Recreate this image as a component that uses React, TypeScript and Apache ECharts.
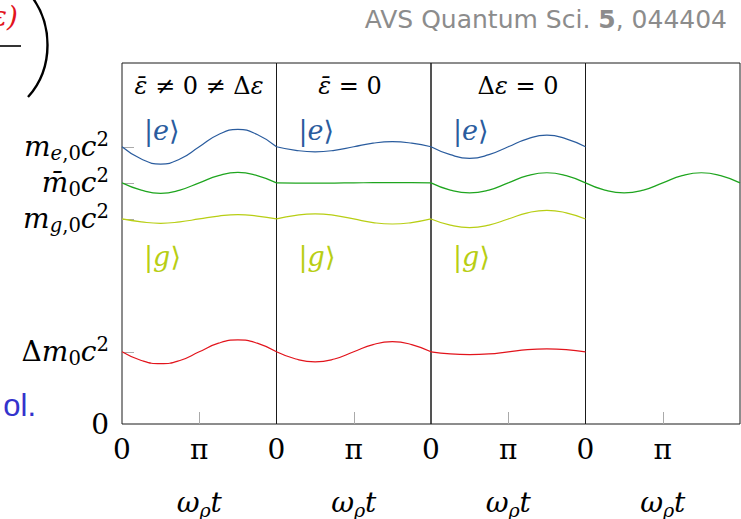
import React, { useEffect, useRef } from "react";
import * as echarts from "echarts";

// ---- data (multiples of π on x, energies in units of Δm0c² on y) ----
const phaseInPi = [0, 0.25, 0.5, 0.75, 1, 1.25, 1.5, 1.75, 2];

// panel 1: ε̄ ≠ 0 ≠ Δε
const p1Excited = [3.84, 3.67, 3.6, 3.67, 3.84, 4.01, 4.08, 4.01, 3.84];
const p1Mean = [3.34, 3.24, 3.195, 3.24, 3.34, 3.44, 3.485, 3.44, 3.34];
const p1Ground = [2.84, 2.8, 2.78, 2.8, 2.84, 2.88, 2.9, 2.88, 2.84];
const p1Delta = [1.0, 0.88, 0.835, 0.88, 1.0, 1.12, 1.165, 1.12, 1.0];

// panel 2: ε̄ = 0
const p2Excited = [3.84, 3.79, 3.77, 3.79, 3.84, 3.89, 3.91, 3.89, 3.84];
const p2Mean = [3.34, 3.337, 3.335, 3.337, 3.34, 3.342, 3.344, 3.342, 3.34];
const p2Ground = [2.84, 2.89, 2.91, 2.89, 2.84, 2.79, 2.77, 2.79, 2.84];
const p2Delta = [1.0, 0.9, 0.86, 0.9, 1.0, 1.1, 1.14, 1.1, 1.0];

// panel 3: Δε = 0
const p3Excited = [3.84, 3.73, 3.68, 3.73, 3.84, 3.95, 4.0, 3.95, 3.84];
const p3Mean = [3.34, 3.24, 3.2, 3.24, 3.34, 3.44, 3.48, 3.44, 3.34];
const p3Ground = [2.84, 2.755, 2.72, 2.755, 2.84, 2.925, 2.96, 2.925, 2.84];
const p3Delta = [1.0, 0.97, 0.96, 0.97, 1.0, 1.03, 1.04, 1.03, 1.0];

// panel 4: only the mean
const p4Mean = [3.34, 3.24, 3.2, 3.24, 3.34, 3.44, 3.48, 3.44, 3.34];

const yTickValues = [0, 1.0, 2.84, 3.34, 3.84];
const yTickLabels = [
  "{n|0}",
  "{n|Δ}{i|m}{sub|0}{i|c}{sup|2}",
  "{i|m}{subi|g}{sub|,0}{i|c}{sup|2}",
  "{i|m̄}{sub|0}{i|c}{sup|2}",
  "{i|m}{subi|e}{sub|,0}{i|c}{sup|2}",
];
const xTickValuesInPi = [0, 1];
const xTickLabels = ["0", "π"];
const panelTitles = [
  "{i|ε̄}{n| ≠ 0 ≠ Δ}{i|ε}",
  "{i|ε̄}{n| = 0}",
  "{n|Δ}{i|ε}{n| = 0}",
  "",
];

const BLUE = "#2a5c9e";
const GREEN = "#1fa51f";
const YELLOW = "#b8ce14";
const RED = "#e2141c";

const SERIF = "'DejaVu Serif', 'Liberation Serif', serif";
const SANS = "'DejaVu Sans', 'Liberation Sans', sans-serif";

const mathRich = (size: number) => ({
  n: { fontFamily: SERIF, fontSize: size, color: "#000", lineHeight: 34 },
  i: { fontFamily: SERIF, fontStyle: "italic", fontSize: size, color: "#000", lineHeight: 34 },
  sub: { fontFamily: SERIF, fontSize: size * 0.7, color: "#000", lineHeight: 17, verticalAlign: "bottom" },
  subi: { fontFamily: SERIF, fontStyle: "italic", fontSize: size * 0.7, color: "#000", lineHeight: 17, verticalAlign: "bottom" },
  sup: { fontFamily: SERIF, fontSize: size * 0.7, color: "#000", lineHeight: 14, verticalAlign: "top" },
});

export default function App() {
  const ref = useRef<HTMLDivElement>(null);
  useEffect(() => {
    if (!ref.current) return;
    const chart = echarts.init(ref.current, null, { renderer: "svg" });

    const L0 = 122;
    const PW = 154.5;
    const TOP = 63;
    const PH = 361;
    const lefts = [0, 1, 2, 3].map((k) => L0 + k * PW);

    const toPairs = (vals: number[]) => vals.map((v, k) => [phaseInPi[k] * Math.PI, v]);

    const panelData: { vals: number[]; color: string }[][] = [
      [
        { vals: p1Excited, color: BLUE },
        { vals: p1Mean, color: GREEN },
        { vals: p1Ground, color: YELLOW },
        { vals: p1Delta, color: RED },
      ],
      [
        { vals: p2Excited, color: BLUE },
        { vals: p2Mean, color: GREEN },
        { vals: p2Ground, color: YELLOW },
        { vals: p2Delta, color: RED },
      ],
      [
        { vals: p3Excited, color: BLUE },
        { vals: p3Mean, color: GREEN },
        { vals: p3Ground, color: YELLOW },
        { vals: p3Delta, color: RED },
      ],
      [{ vals: p4Mean, color: GREEN }],
    ];

    const series: any[] = [];
    panelData.forEach((curves, p) => {
      curves.forEach((c) => {
        series.push({
          type: "line",
          xAxisIndex: p,
          yAxisIndex: p,
          data: toPairs(c.vals),
          smooth: 0.5,
          showSymbol: false,
          symbol: "none",
          lineStyle: { color: c.color, width: 1.2 },
          silent: true,
        });
      });
    });

    const grid = lefts.map((l) => ({
      left: l,
      top: TOP,
      width: PW,
      height: PH,
      outerBoundsMode: "none",
      containLabel: false,
      show: true,
      borderColor: "#1a1a1a",
      borderWidth: 1,
      backgroundColor: "transparent",
    }));

    const xAxis = lefts.map((_, p) => ({
      type: "value",
      gridIndex: p,
      min: 0,
      max: 2 * Math.PI,
      axisLine: { show: false },
      splitLine: { show: false },
      axisTick: {
        show: true,
        inside: true,
        length: 12,
        customValues: [Math.PI],
        lineStyle: { color: "#aaa", width: 1 },
      },
      axisLabel: {
        show: true,
        margin: 8,
        customValues: xTickValuesInPi.map((v) => v * Math.PI),
        formatter: (v: number) => {
          const k = xTickValuesInPi.findIndex((t) => Math.abs(t * Math.PI - v) < 1e-6);
          return k >= 0 ? "{n|" + xTickLabels[k] + "}" : "";
        },
        rich: mathRich(28),
      },
      name: "{w|ω}{s|ϱ}{i|t}",
      nameLocation: "middle",
      nameGap: 61,
      nameTextStyle: {
        rich: {
          w: { fontFamily: SERIF, fontStyle: "italic", fontSize: 28, color: "#000", lineHeight: 34 },
          i: { fontFamily: SERIF, fontStyle: "italic", fontSize: 28, color: "#000", lineHeight: 34 },
          s: { fontFamily: SERIF, fontStyle: "italic", fontSize: 19, color: "#000", lineHeight: 17, verticalAlign: "bottom" },
        },
      },
    }));

    const yAxis = lefts.map((_, p) => ({
      type: "value",
      gridIndex: p,
      min: 0,
      max: 5,
      show: p === 0,
      axisLine: { show: false },
      splitLine: { show: false },
      axisTick: {
        show: p === 0,
        inside: true,
        length: 12,
        customValues: yTickValues.slice(1),
        lineStyle: { color: "#aaa", width: 1 },
      },
      axisLabel: {
        show: p === 0,
        margin: 13,
        customValues: yTickValues,
        formatter: (v: number) => {
          const k = yTickValues.findIndex((t) => Math.abs(t - v) < 1e-6);
          return k >= 0 ? yTickLabels[k] : "";
        },
        rich: mathRich(28),
      },
    }));

    const graphic: any[] = [];
    // panel titles
    const titleCenters = [199, 350, 518];
    panelTitles.forEach((t, p) => {
      if (!t) return;
      graphic.push({
        type: "text",
        x: titleCenters[p],
        y: 86,
        silent: true,
        style: {
          text: t,
          align: "center",
          verticalAlign: "middle",
          rich: {
            n: { fontFamily: SERIF, fontSize: 24, fill: "#000" },
            i: { fontFamily: SERIF, fontStyle: "italic", fontSize: 24, fill: "#000" },
          },
        },
      });
    });
    // kets
    [0, 1, 2].forEach((p) => {
      graphic.push({
        type: "text",
        x: lefts[p] + 22,
        y: 130,
        silent: true,
        style: {
          text: "{u||}{i|e}{u|⟩}",
          verticalAlign: "middle",
          rich: {
            u: { fontFamily: SERIF, fontSize: 27, fill: BLUE },
            i: { fontFamily: SERIF, fontStyle: "italic", fontSize: 27, fill: BLUE },
          },
        },
      });
      graphic.push({
        type: "text",
        x: lefts[p] + 22,
        y: 256,
        silent: true,
        style: {
          text: "{u||}{i|g}{u|⟩}",
          verticalAlign: "middle",
          rich: {
            u: { fontFamily: SERIF, fontSize: 27, fill: YELLOW },
            i: { fontFamily: SERIF, fontStyle: "italic", fontSize: 27, fill: YELLOW },
          },
        },
      });
    });
    // journal reference
    graphic.push({
      type: "text",
      x: 727,
      y: 19,
      silent: true,
      style: {
        text: "{a|AVS Quantum Sci. }{b|5}{a|, 044404}",
        align: "right",
        verticalAlign: "middle",
        rich: {
          a: { fontFamily: SANS, fontSize: 25, fill: "#8c8c8c" },
          b: { fontFamily: SANS, fontSize: 25, fontWeight: "bold", fill: "#8c8c8c" },
        },
      },
    });
    // clipped surrounding page content
    graphic.push({
      type: "text",
      x: 18,
      y: 16,
      silent: true,
      style: {
        text: "ε)",
        align: "right",
        verticalAlign: "middle",
        fontFamily: SERIF,
        fontStyle: "italic",
        fontSize: 28,
        fill: "#e2141c",
      },
    });
    graphic.push({
      type: "line",
      silent: true,
      shape: { x1: 0, y1: 46, x2: 21, y2: 46 },
      style: { stroke: "#000", lineWidth: 1.6 },
    });
    graphic.push({
      type: "bezierCurve",
      silent: true,
      shape: { x1: 28, y1: -8, cpx1: 54, cpy1: 22, cpx2: 54, cpy2: 68, x2: 28, y2: 97 },
      style: { stroke: "#000", lineWidth: 2.4, fill: "none" },
    });
    graphic.push({
      type: "text",
      x: 36,
      y: 421,
      silent: true,
      style: {
        text: "ol.",
        align: "right",
        verticalAlign: "bottom",
        fontFamily: "'Liberation Sans', Arial, sans-serif",
        fontSize: 31,
        fill: "#3333cc",
      },
    });

    chart.setOption({
      animation: false,
      backgroundColor: "#fff",
      grid,
      xAxis,
      yAxis,
      series,
      graphic,
    });
    return () => chart.dispose();
  }, []);

  return (
    <div
      ref={ref}
      style={{ position: "fixed", left: 0, top: 0, width: 741, height: 519 }}
    />
  );
}
